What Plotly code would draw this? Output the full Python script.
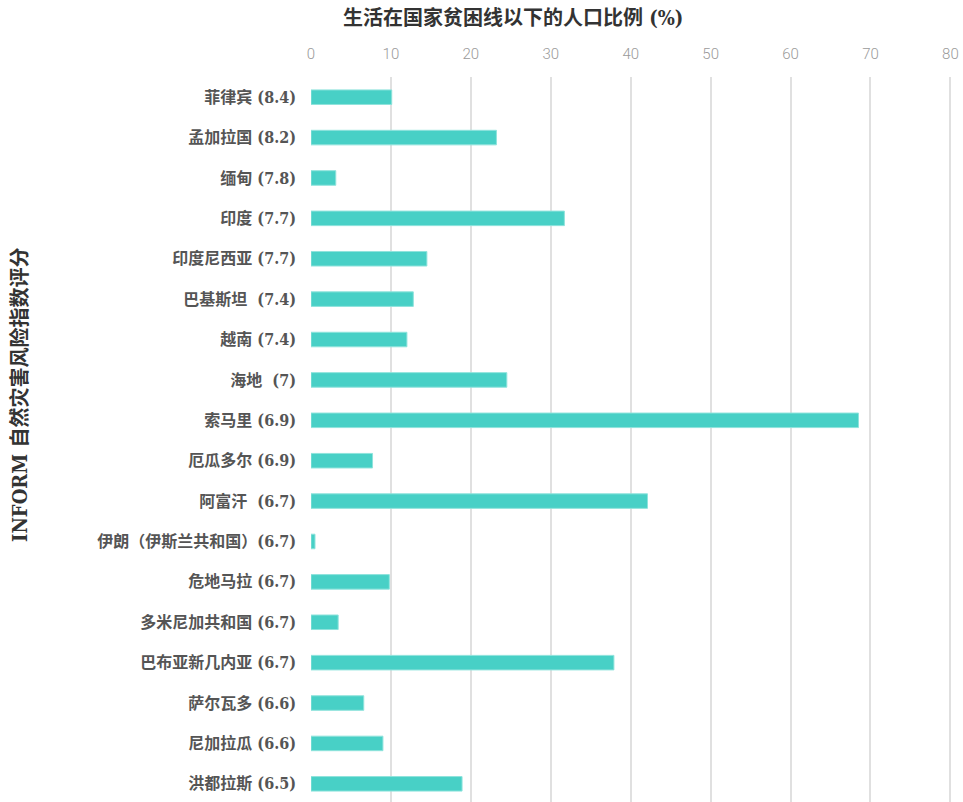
import plotly.graph_objects as go

# Countries with their INFORM natural-hazard risk score, top to bottom
countries = [
    "菲律宾 (8.4)", "孟加拉国 (8.2)", "缅甸 (7.8)", "印度 (7.7)", "印度尼西亚 (7.7)",
    "巴基斯坦  (7.4)", "越南 (7.4)", "海地  (7)", "索马里 (6.9)", "厄瓜多尔 (6.9)",
    "阿富汗  (6.7)", "伊朗（伊斯兰共和国）(6.7)", "危地马拉 (6.7)", "多米尼加共和国 (6.7)",
    "巴布亚新几内亚 (6.7)", "萨尔瓦多 (6.6)", "尼加拉瓜 (6.6)", "洪都拉斯 (6.5)",
]

# Share of population living below the national poverty line (%)
poverty_pct = [
    10.1, 23.2, 3.1, 31.7, 14.5,
    12.8, 12.0, 24.5, 68.5, 7.7,
    42.1, 0.5, 9.8, 3.4,
    37.9, 6.6, 9.0, 18.9,
]

x_ticks = [0, 10, 20, 30, 40, 50, 60, 70, 80]

W, H = 963, 802
M_L, M_R, M_T, M_B = 311, 11, 77, 0
plot_w = W - M_L - M_R
plot_h = H - M_T - M_B

serif_bold = "DejaVu Serif Condensed, DejaVu Serif, Noto Sans CJK SC, serif"

fig = go.Figure(
    go.Bar(
        x=poverty_pct,
        y=countries,
        orientation="h",
        marker=dict(color="#48d0c6", line=dict(color="#8fe3dc", width=1)),
        hoverinfo="x+y",
    )
)

fig.update_layout(
    width=W,
    height=H,
    margin=dict(l=M_L, r=M_R, t=M_T, b=M_B, pad=0),
    paper_bgcolor="white",
    plot_bgcolor="white",
    bargap=0.64,
    showlegend=False,
    xaxis=dict(
        side="top",
        range=[0, 80.2],
        tickvals=x_ticks,
        ticktext=[str(t) for t in x_ticks],
        showgrid=True,
        gridcolor="#e0e0e0",
        gridwidth=2,
        zeroline=False,
        showline=False,
        ticks="",
        ticklabelstandoff=14,
        tickfont=dict(family="Roboto, sans-serif", size=15, color="#9a9a9a", weight=300),
        fixedrange=True,
    ),
    yaxis=dict(
        # first row at the top; the last row sits close to the bottom edge
        range=[len(countries) - 0.55, -0.5],
        showgrid=False,
        zeroline=False,
        showline=False,
        ticks="",
        ticklabelstandoff=14,
        tickfont=dict(family=serif_bold, size=16, color="#555555", weight="bold"),
        fixedrange=True,
    ),
    annotations=[
        dict(
            text="<b>生活在国家贫困线以下的人口比例 (%)</b>",
            xref="paper", yref="paper",
            x=(513 - M_L) / plot_w, y=1 + (M_T - 18) / plot_h,
            xanchor="center", yanchor="middle",
            showarrow=False,
            font=dict(family=serif_bold, size=20, color="#333333"),
        ),
        dict(
            text="<b>INFORM 自然灾害风险指数评分</b>",
            xref="paper", yref="paper",
            x=(20 - M_L) / plot_w, y=(H - 395) / plot_h,
            xanchor="center", yanchor="middle",
            textangle=-90,
            showarrow=False,
            font=dict(family=serif_bold, size=20, color="#333333"),
        ),
    ],
)

fig.write_html("out.html")
